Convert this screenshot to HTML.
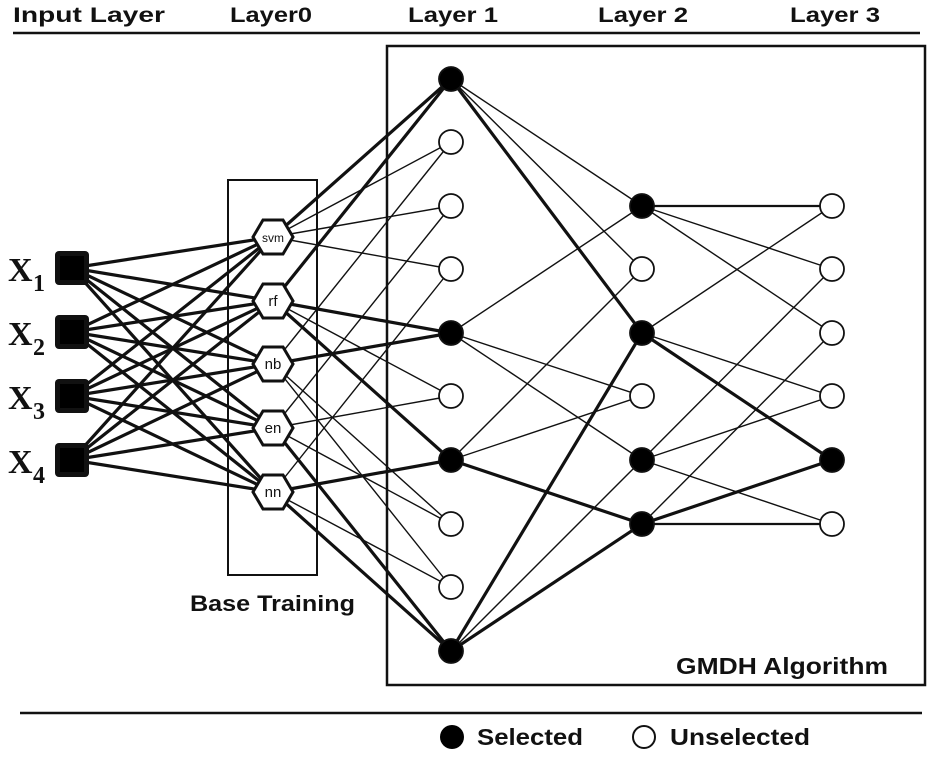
<!DOCTYPE html>
<html><head><meta charset="utf-8"><style>
body{margin:0;background:#fff;}
svg{display:block;font-family:"Liberation Sans",sans-serif;}
</style></head><body>
<svg id="s" width="929" height="758" viewBox="0 0 929 758" xmlns="http://www.w3.org/2000/svg">
<g font-weight="bold" font-size="21" fill="#111">
<text x="13" y="22" textLength="152" lengthAdjust="spacingAndGlyphs">Input Layer</text>
<text x="230" y="22" textLength="82" lengthAdjust="spacingAndGlyphs">Layer0</text>
<text x="408" y="22" textLength="90" lengthAdjust="spacingAndGlyphs">Layer 1</text>
<text x="598" y="22" textLength="90" lengthAdjust="spacingAndGlyphs">Layer 2</text>
<text x="790" y="22" textLength="90" lengthAdjust="spacingAndGlyphs">Layer 3</text>
</g>
<line x1="13" y1="33" x2="920" y2="33" stroke="#111" stroke-width="2.5"/>
<line x1="20" y1="713" x2="922" y2="713" stroke="#111" stroke-width="2.5"/>
<rect x="387" y="46" width="538" height="639" fill="none" stroke="#111" stroke-width="2.5"/>
<rect x="228" y="180" width="89" height="395" fill="none" stroke="#111" stroke-width="2"/>
<g id="edges"></g>
<g id="nodes"></g>
<g font-weight="bold" fill="#111">
<text x="190" y="611" font-size="22" textLength="165" lengthAdjust="spacingAndGlyphs">Base Training</text>
<text x="676" y="674" font-size="23" textLength="212" lengthAdjust="spacingAndGlyphs">GMDH Algorithm</text>
<text x="477" y="745" font-size="23" textLength="106" lengthAdjust="spacingAndGlyphs">Selected</text>
<text x="670" y="745" font-size="23" textLength="140" lengthAdjust="spacingAndGlyphs">Unselected</text>
</g>
<circle cx="452" cy="737" r="12" fill="#000"/>
<circle cx="644" cy="737" r="11" fill="#fff" stroke="#111" stroke-width="2"/>
<g font-family="Liberation Serif,serif" font-weight="bold" fill="#111">
<text x="8" y="281" font-size="34">X</text><text x="33" y="291" font-size="24">1</text>
<text x="8" y="345" font-size="34">X</text><text x="33" y="355" font-size="24">2</text>
<text x="8" y="409" font-size="34">X</text><text x="33" y="419" font-size="24">3</text>
<text x="8" y="473" font-size="34">X</text><text x="33" y="483" font-size="24">4</text>
</g>
<g font-size="15" fill="#111" text-anchor="middle">
<text x="273" y="242" font-size="12">svm</text>
<text x="273" y="306">rf</text>
<text x="273" y="369">nb</text>
<text x="273" y="433">en</text>
<text x="273" y="497">nn</text>
</g>
</svg>
<script>
var NS="http://www.w3.org/2000/svg";
var E=document.getElementById("edges"),N=document.getElementById("nodes");
function ln(a,b,w){var l=document.createElementNS(NS,"line");l.setAttribute("x1",a[0]);l.setAttribute("y1",a[1]);l.setAttribute("x2",b[0]);l.setAttribute("y2",b[1]);l.setAttribute("stroke","#111");l.setAttribute("stroke-width",w);E.appendChild(l);}
var X=[268,332,396,460].map(function(y){return[72,y]});
var H=[237,301,364,428,492].map(function(y){return[273,y]});
var L1=[79,142,206,269,333,396,460,524,587,651].map(function(y){return[451,y]});
var L2=[206,269,333,396,460,524].map(function(y){return[642,y]});
var L3=[206,269,333,396,460,524].map(function(y){return[832,y]});
X.forEach(function(x){H.forEach(function(h){ln(x,h,3.2)})});
var T=3.2,t=1.4;
var hx=[[0,0,T],[0,1,t],[0,2,t],[0,3,t],[1,0,T],[1,4,T],[1,5,t],[1,6,T],[2,1,t],[2,4,T],[2,7,t],[2,8,t],[3,2,t],[3,5,t],[3,7,t],[3,9,T],[4,3,t],[4,6,T],[4,8,t],[4,9,T]];
hx.forEach(function(e){ln(H[e[0]],L1[e[1]],e[2])});
var l12=[[0,0,t],[0,1,t],[0,2,T],[4,0,t],[4,3,t],[4,4,t],[6,1,t],[6,3,t],[6,5,T],[9,2,T],[9,4,t],[9,5,T]];
l12.forEach(function(e){ln(L1[e[0]],L2[e[1]],e[2])});
var l23=[[0,0,2.2],[0,1,t],[0,2,t],[2,0,t],[2,3,t],[2,4,T],[4,1,t],[4,3,t],[4,5,t],[5,2,t],[5,4,T],[5,5,2.2]];
l23.forEach(function(e){ln(L2[e[0]],L3[e[1]],e[2])});
function circ(p,sel){var c=document.createElementNS(NS,"circle");c.setAttribute("cx",p[0]);c.setAttribute("cy",p[1]);c.setAttribute("r",12);c.setAttribute("fill",sel?"#000":"#fff");c.setAttribute("stroke","#111");c.setAttribute("stroke-width",1.8);N.appendChild(c);}
L1.forEach(function(p,i){circ(p,[0,4,6,9].indexOf(i)>=0)});
L2.forEach(function(p,i){circ(p,[0,2,4,5].indexOf(i)>=0)});
L3.forEach(function(p,i){circ(p,i==4)});
X.forEach(function(p){var r=document.createElementNS(NS,"rect");r.setAttribute("x",p[0]-17);r.setAttribute("y",p[1]-17);r.setAttribute("width",34);r.setAttribute("height",34);r.setAttribute("rx",4);r.setAttribute("fill","#111");N.appendChild(r);
var r2=document.createElementNS(NS,"rect");r2.setAttribute("x",p[0]-12);r2.setAttribute("y",p[1]-12);r2.setAttribute("width",24);r2.setAttribute("height",24);r2.setAttribute("fill","#000");N.appendChild(r2);});
H.forEach(function(p){var g=document.createElementNS(NS,"polygon");var x=p[0],y=p[1];
g.setAttribute("points",[[x-20,y],[x-10,y-17],[x+10,y-17],[x+20,y],[x+10,y+17],[x-10,y+17]].map(function(q){return q.join(",")}).join(" "));
g.setAttribute("fill","#fff");g.setAttribute("stroke","#111");g.setAttribute("stroke-width",3);N.appendChild(g);});
</script>
</body></html>
